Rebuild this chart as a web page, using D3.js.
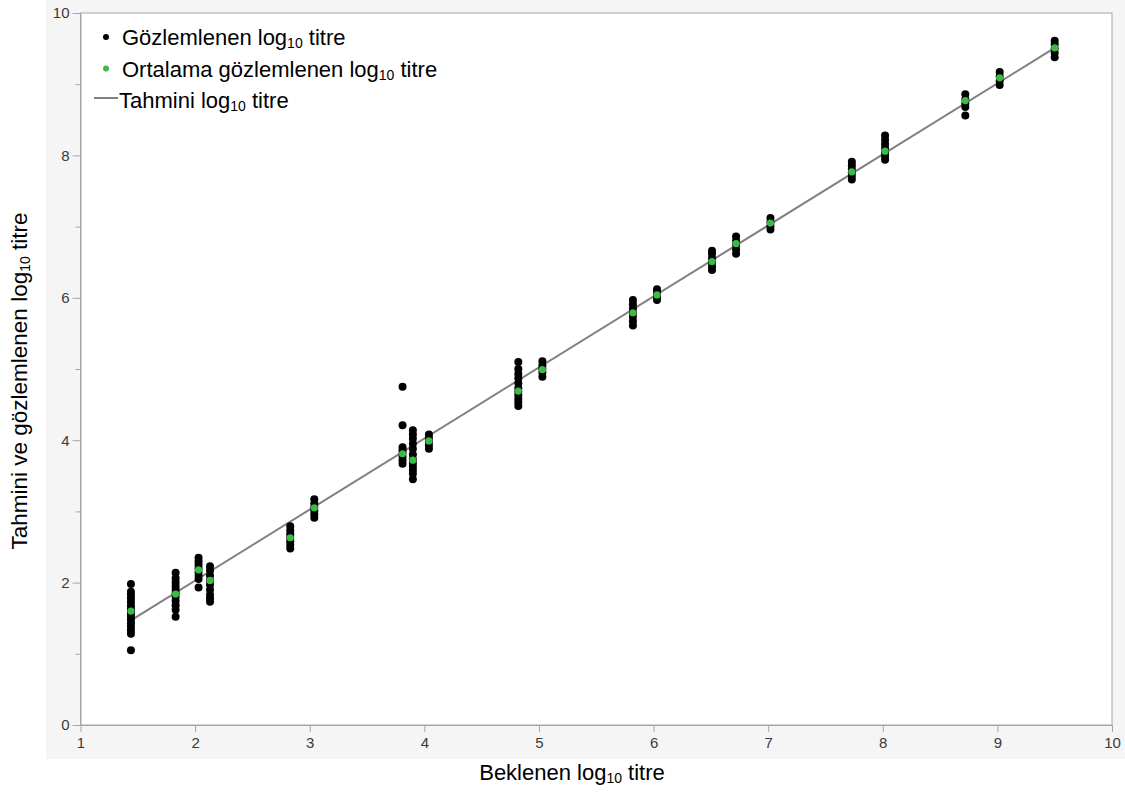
<!DOCTYPE html>
<html>
<head>
<meta charset="utf-8">
<script src="https://cdn.jsdelivr.net/npm/d3@7"></script>
<style>
  body { margin: 0; background: #fff; }
  svg { display: block; font-family: "Liberation Sans", Arial, sans-serif; }
</style>
</head>
<body>
<svg id="chart"></svg>
<script>
// expected log10 titre per group
const expected = [1.44, 1.83, 2.03, 2.13, 2.83, 3.04, 3.81, 3.90, 4.04, 4.82, 5.03,
  5.82, 6.03, 6.51, 6.72, 7.02, 7.73, 8.02, 8.72, 9.02, 9.50];

// observed log10 titre per group
const observed = [
  [1.05, 1.28, 1.33, 1.38, 1.43, 1.48, 1.53, 1.58, 1.63, 1.68, 1.73, 1.78, 1.83, 1.87, 1.98],
  [1.52, 1.62, 1.68, 1.74, 1.80, 1.85, 1.90, 1.95, 2.00, 2.06, 2.14],
  [1.93, 2.05, 2.10, 2.15, 2.20, 2.25, 2.30, 2.35],
  [1.73, 1.78, 1.83, 1.90, 1.97, 2.03, 2.10, 2.17, 2.23],
  [2.48, 2.53, 2.58, 2.63, 2.68, 2.73, 2.79],
  [2.91, 2.96, 3.01, 3.06, 3.11, 3.17],
  [3.67, 3.72, 3.77, 3.82, 3.86, 3.90, 4.21, 4.75],
  [3.45, 3.53, 3.58, 3.63, 3.68, 3.73, 3.80, 3.88, 3.95, 4.02, 4.08, 4.14],
  [3.88, 3.93, 3.98, 4.03, 4.08],
  [4.48, 4.53, 4.58, 4.63, 4.68, 4.73, 4.80, 4.87, 4.93, 5.00, 5.10],
  [4.89, 4.95, 5.00, 5.05, 5.11],
  [5.61, 5.67, 5.73, 5.79, 5.85, 5.91, 5.97],
  [5.97, 6.02, 6.07, 6.12],
  [6.39, 6.44, 6.50, 6.56, 6.62, 6.66],
  [6.62, 6.68, 6.74, 6.80, 6.86],
  [6.96, 7.01, 7.06, 7.12],
  [7.66, 7.71, 7.76, 7.81, 7.86, 7.91],
  [7.94, 7.99, 8.04, 8.10, 8.16, 8.22, 8.28],
  [8.56, 8.68, 8.73, 8.79, 8.86],
  [8.99, 9.05, 9.11, 9.17],
  [9.38, 9.44, 9.50, 9.56, 9.61]
];

// mean observed per group (green)
const meanObserved = [1.60, 1.84, 2.18, 2.03, 2.63, 3.05, 3.81, 3.72, 3.99, 4.69, 4.99,
  5.79, 6.04, 6.51, 6.76, 7.05, 7.77, 8.06, 8.77, 9.09, 9.51];

// predicted line endpoints
const predX = [1.44, 9.50];
const predY = [1.47, 9.51];

const xTicks = [1, 2, 3, 4, 5, 6, 7, 8, 9, 10];
const yTicks = [0, 2, 4, 6, 8, 10];
const yMinor = [1, 3, 5, 7, 9];

const width = 1125, height = 795;
const margin = { left: 80.5, right: 13, top: 13, bottom: 70 };

const svg = d3.select('#chart')
  .attr('width', width)
  .attr('height', height);

// grey panel behind the plot
svg.append('rect')
  .attr('x', 46).attr('y', 0)
  .attr('width', width - 46).attr('height', 759)
  .attr('fill', '#f5f5f5');

const x = d3.scaleLinear().domain([1, 10]).range([margin.left, width - margin.right]);
const y = d3.scaleLinear().domain([0, 10]).range([height - margin.bottom, margin.top]);

svg.append('rect')
  .attr('x', x(1)).attr('y', y(10))
  .attr('width', x(10) - x(1)).attr('height', y(0) - y(10))
  .attr('fill', '#fff')
  .attr('stroke', '#a6a6a6')
  .attr('stroke-width', 1);

// x axis
const xAxis = svg.append('g')
  .attr('transform', `translate(0, ${y(0)})`)
  .call(d3.axisBottom(x).tickValues(xTicks).tickFormat(d3.format('d'))
    .tickSize(7).tickPadding(5).tickSizeOuter(0));

// y axis
svg.append('g')
  .attr('transform', `translate(${x(1)}, 0)`)
  .call(d3.axisLeft(y).tickValues(yTicks).tickFormat(d3.format('d'))
    .tickSize(8).tickPadding(3).tickSizeOuter(0));

svg.append('g')
  .attr('transform', `translate(${x(1)}, 0)`)
  .call(d3.axisLeft(y).tickValues(yMinor).tickFormat('').tickSize(5).tickSizeOuter(0))
  .select('.domain').remove();

svg.selectAll('.domain, .tick line').attr('stroke', '#a6a6a6');
svg.selectAll('.tick text')
  .attr('fill', '#3a3a3a')
  .style('font-size', '15px')
  .style('font-family', '"Liberation Sans", Arial, sans-serif');

// predicted line
svg.append('line')
  .attr('x1', x(predX[0])).attr('y1', y(predY[0]))
  .attr('x2', x(predX[1])).attr('y2', y(predY[1]))
  .attr('stroke', '#808080')
  .attr('stroke-width', 2);

// observed points
const obsFlat = [];
observed.forEach((vals, i) => vals.forEach(v => obsFlat.push({ x: expected[i], y: v })));

svg.append('g')
  .selectAll('circle')
  .data(obsFlat)
  .enter()
  .append('circle')
  .attr('r', 4)
  .attr('cx', d => x(d.x))
  .attr('cy', d => y(d.y))
  .attr('fill', '#000');

// mean points
svg.append('g')
  .selectAll('circle')
  .data(meanObserved)
  .enter()
  .append('circle')
  .attr('r', 3.6)
  .attr('cx', (d, i) => x(expected[i]))
  .attr('cy', d => y(d))
  .attr('fill', '#3cba48');

// legend
const legend = svg.append('g').style('font-size', '22px').attr('fill', '#000');
const legendRows = [
  { pre: 'Gözlemlenen log', post: ' titre', type: 'dot', color: '#000' },
  { pre: 'Ortalama gözlemlenen log', post: ' titre', type: 'dot', color: '#3cba48' },
  { pre: 'Tahmini log', post: ' titre', type: 'line', color: '#808080' }
];
legendRows.forEach((r, i) => {
  const base = 45 + i * 31.5;
  if (r.type === 'dot') {
    legend.append('circle').attr('cx', 106).attr('cy', base - 8).attr('r', 3).attr('fill', r.color);
  } else {
    legend.append('line').attr('x1', 94).attr('x2', 118).attr('y1', base - 10).attr('y2', base - 10)
      .attr('stroke', r.color).attr('stroke-width', 2);
  }
  const t = legend.append('text').attr('x', i === 2 ? 119 : 122).attr('y', base);
  t.append('tspan').text(r.pre);
  t.append('tspan').attr('dy', 3).style('font-size', '14px').text('10');
  t.append('tspan').attr('dy', -3).text(r.post);
});

// axis titles
const xt = svg.append('text')
  .attr('x', 572).attr('y', 780)
  .attr('text-anchor', 'middle')
  .style('font-size', '22px');
xt.append('tspan').text('Beklenen log');
xt.append('tspan').attr('dy', 3).style('font-size', '14px').text('10');
xt.append('tspan').attr('dy', -3).text(' titre');

const yt = svg.append('text')
  .attr('transform', 'translate(27, 381) rotate(-90)')
  .attr('text-anchor', 'middle')
  .style('font-size', '22.5px');
yt.append('tspan').text('Tahmini ve gözlemlenen log');
yt.append('tspan').attr('dy', 3).style('font-size', '14px').text('10');
yt.append('tspan').attr('dy', -3).text(' titre');
</script>
</body>
</html>
